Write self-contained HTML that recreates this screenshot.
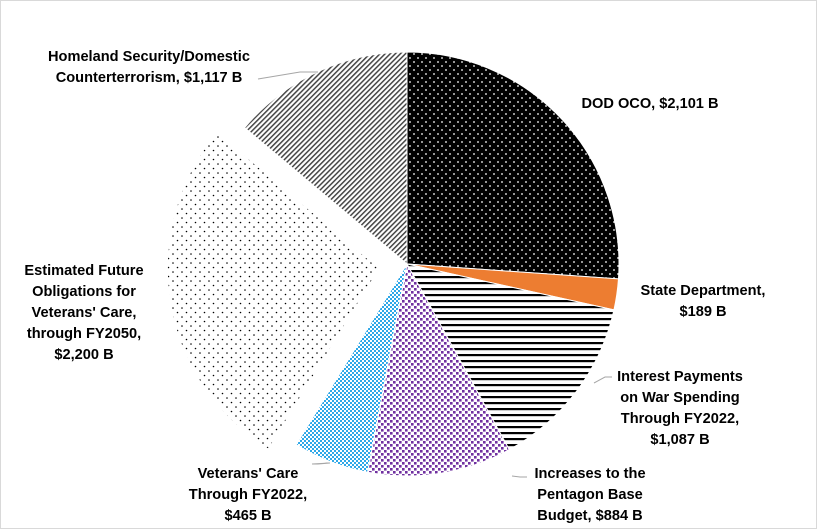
<!DOCTYPE html>
<html><head><meta charset="utf-8"><style>
html,body{margin:0;padding:0;background:#fff;}
svg{display:block;}
text{font-family:"Liberation Sans",sans-serif;font-weight:bold;font-size:14.6px;fill:#000;}
</style></head><body>
<svg id="chart" width="818" height="532" viewBox="0 0 818 532">
<defs>
<pattern id="p0" width="8" height="8" patternUnits="userSpaceOnUse"><rect width="8" height="8" fill="#000"/><circle cx="2" cy="2" r="0.9" fill="#fff"/><circle cx="6" cy="6" r="0.9" fill="#fff"/></pattern>
<pattern id="p1" width="8" height="8" patternUnits="userSpaceOnUse"><rect width="8" height="8" fill="#ED7D31"/></pattern>
<pattern id="p2" width="6" height="6" patternUnits="userSpaceOnUse"><rect width="6" height="6" fill="#fff"/><rect y="0" width="6" height="2.2" fill="#000"/></pattern>
<pattern id="p3" width="6" height="6" patternUnits="userSpaceOnUse"><rect width="6" height="6" fill="#fff"/><rect width="2.6" height="2.6" fill="#7030A0"/><rect x="3" y="3" width="2.6" height="2.6" fill="#7030A0"/></pattern>
<pattern id="p4" width="4" height="4" patternUnits="userSpaceOnUse"><rect width="4" height="4" fill="#fff"/><rect width="2" height="2" fill="#2EA8E8"/><rect x="2" y="2" width="2" height="2" fill="#2EA8E8"/></pattern>
<pattern id="p5" width="9" height="9" patternUnits="userSpaceOnUse"><rect width="9" height="9" fill="#fff"/><circle cx="2" cy="2" r="0.8" fill="#000"/><circle cx="6.5" cy="6.5" r="0.8" fill="#000"/></pattern>
<pattern id="p6" width="3.6" height="3.6" patternUnits="userSpaceOnUse" patternTransform="rotate(45)"><rect width="3.6" height="3.6" fill="#fff"/><rect width="1.5" height="3.6" fill="#444"/></pattern>
</defs>
<rect x="0.5" y="0.5" width="816" height="528" fill="#fff" stroke="#d9d9d9"/>
<g id="slices"></g>
<g id="labels"></g>
</svg>
<script>
const categories=["DOD OCO","State Department","Interest Payments on War Spending Through FY2022","Increases to the Pentagon Base Budget","Veterans' Care Through FY2022","Estimated Future Obligations for Veterans' Care, through FY2050","Homeland Security/Domestic Counterterrorism"];
const values=[2101,189,1087,884,465,2200,1117];
const explode=[0,0,0,0,0,28,0];
const cx=407,cy=264,R=212;
const ns="http://www.w3.org/2000/svg";
const total=values.reduce((a,b)=>a+b,0);
const g=document.getElementById('slices');
function pt(a,r,ox,oy){return [ox+r*Math.sin(a),oy-r*Math.cos(a)];}
let start=0;
values.forEach((v,i)=>{
  const sw=v/total*2*Math.PI, end=start+sw, mid=start+sw/2;
  const ox=cx+explode[i]*Math.sin(mid), oy=cy-explode[i]*Math.cos(mid);
  const p1=pt(start,R,ox,oy), p2=pt(end,R,ox,oy);
  const p=document.createElementNS(ns,'path');
  p.setAttribute('d',`M${ox},${oy}L${p1[0]},${p1[1]}A${R},${R} 0 ${sw>Math.PI?1:0} 1 ${p2[0]},${p2[1]}Z`);
  p.setAttribute('fill',`url(#p${i})`);
  p.setAttribute('stroke','#fff');p.setAttribute('stroke-width','1');
  
  
  g.appendChild(p);
  start=end;
});
const L=document.getElementById('labels');
function line(pts,name){const l=document.createElementNS(ns,'polyline');l.setAttribute('points',pts);l.setAttribute('fill','none');l.setAttribute('stroke','#a6a6a6');l.setAttribute('stroke-width','1');


L.appendChild(l);}
function label(lines,x,y,name){const t=document.createElementNS(ns,'text');t.setAttribute('text-anchor','middle');


lines.forEach((s,k)=>{const ts=document.createElementNS(ns,'tspan');ts.setAttribute('x',x);ts.setAttribute('y',y+k*21);ts.textContent=s;t.appendChild(ts);});L.appendChild(t);}
line("258,79 300,72 318,72",'homeland-leader');
line("512,476 520,477 527,477",'increases-leader');
line("318,464 330,463 312,464",'veterans-leader');
line("594,383 605,377 612,377",'interest-leader');
label(["Homeland Security/Domestic","Counterterrorism, $"+values[6].toLocaleString('en-US')+" B"],149,61,'label-homeland');
label(["DOD OCO, $"+values[0].toLocaleString('en-US')+" B"],650,108,'label-dod-oco');
label(["State Department,","$"+values[1]+" B"],703,295,'label-state');
label(["Interest Payments","on War Spending","Through FY2022,","$"+values[2].toLocaleString('en-US')+" B"],680,381,'label-interest');
label(["Increases to the","Pentagon Base","Budget, $"+values[3]+" B"],590,478,'label-increases');
label(["Veterans' Care","Through FY2022,","$"+values[4]+" B"],248,478,'label-veterans');
label(["Estimated Future","Obligations for","Veterans' Care,","through FY2050,","$"+values[5].toLocaleString('en-US')+" B"],84,275,'label-estimated');
</script>
</body></html>
